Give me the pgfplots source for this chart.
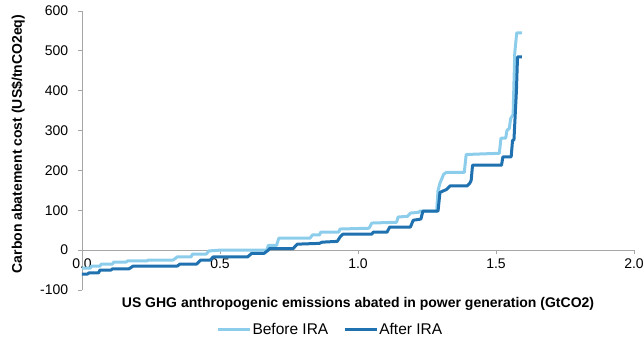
\documentclass[border=0pt]{standalone}
\usepackage{pgfplots}
\pgfplotsset{compat=1.18}
\usepackage{fontspec}
\setmainfont{Liberation Sans}
\definecolor{lightb}{HTML}{8DCDEC}
\definecolor{darkb}{HTML}{1F72AF}
\definecolor{axgray}{HTML}{A6A6A6}
\begin{document}
\fontsize{14bp}{16bp}\selectfont
\begin{tikzpicture}
\useasboundingbox (-82bp,-55bp) rectangle (561bp,290bp);
\begin{axis}[
    at={(0,0)}, anchor=south west,
    scale only axis,
    width=552bp, height=279bp,
    xmin=0, xmax=2, ymin=-100, ymax=600,
    axis x line*=middle, axis y line*=left,
    hide obscured x ticks=false,
    axis line style={axgray, line width=0.9pt},
    every tick/.style={axgray, line width=0.9pt},
    tick align=outside, major tick length=4bp,
    xtick={0,0.5,1,1.5,2},
    ytick={-100,0,...,600},
    xticklabel style={/pgf/number format/.cd, fixed, fixed zerofill, precision=1},
    yticklabel style={xshift=-5bp},
    /pgf/number format/assume math mode=true,
    tick label style={font=\fontsize{14bp}{16bp}\selectfont, black},
    xlabel={\bfseries US GHG anthropogenic emissions abated in power generation (GtCO2)},
    ylabel={\bfseries Carbon abatement cost (US\$/tnCO2eq)},
    xlabel style={at={(axis description cs:0.5,0)}, anchor=north, yshift=-2bp, font=\fontsize{14bp}{16bp}\selectfont},
    ylabel style={at={(axis description cs:-0.1159,0.523)}, anchor=center, font=\fontsize{14bp}{16bp}\selectfont},
    legend style={at={(0.449,-0.143)}, anchor=center, legend columns=2, draw=none,
      font=\fontsize{15.5bp}{17bp}\selectfont,
      nodes={inner xsep=1bp},
      /tikz/every even column/.append style={column sep=14bp}},
    legend image code/.code={\draw[#1, line width=3bp] (0bp,0bp) -- (32bp,0bp);},
    clip=false,
]
\addplot[lightb, line width=3bp, line join=round] coordinates {
(0.0,-45) (0.03,-45) (0.035,-40) (0.065,-40) (0.07,-35) (0.11,-35) (0.115,-30) (0.16,-30)
(0.165,-27) (0.235,-27) (0.24,-25) (0.33,-25) (0.345,-17) (0.395,-17) (0.40,-10) (0.45,-10)
(0.46,-2) (0.5,0) (0.67,0) (0.675,12) (0.705,12) (0.713,30) (0.826,30) (0.835,38) (0.86,38)
(0.865,45) (0.93,45) (0.935,53) (1.04,55) (1.05,68) (1.14,70) (1.145,83) (1.18,85)
(1.19,93) (1.22,95) (1.225,98) (1.285,98) (1.29,150) (1.297,168) (1.31,190) (1.32,195)
(1.385,195) (1.392,240) (1.512,243) (1.518,281) (1.535,281) (1.54,301) (1.548,305)
(1.553,330) (1.562,340) (1.568,495) (1.575,545) (1.594,545)
};
\addlegendentry{Before IRA}
\addplot[darkb, line width=3bp, line join=round] coordinates {
(0.0,-60) (0.02,-60) (0.025,-57) (0.06,-57) (0.065,-50) (0.105,-50) (0.11,-47) (0.17,-47)
(0.185,-40) (0.345,-40) (0.355,-35) (0.415,-35) (0.43,-25) (0.465,-25) (0.475,-17)
(0.6,-17) (0.615,-8) (0.66,-8) (0.675,0) (0.68,4) (0.765,4) (0.78,15) (0.86,17) (0.87,20)
(0.925,22) (0.935,33) (0.945,40) (1.05,40) (1.055,45) (1.105,45) (1.115,58) (1.19,58)
(1.2,75) (1.228,78) (1.235,98) (1.29,98) (1.297,145) (1.32,152) (1.333,161) (1.395,161)
(1.405,168) (1.41,175) (1.415,213) (1.52,213) (1.525,234) (1.555,234) (1.56,276)
(1.565,276) (1.574,400) (1.578,485) (1.594,485)
};
\addlegendentry{After IRA}
\end{axis}
\end{tikzpicture}
\end{document}
